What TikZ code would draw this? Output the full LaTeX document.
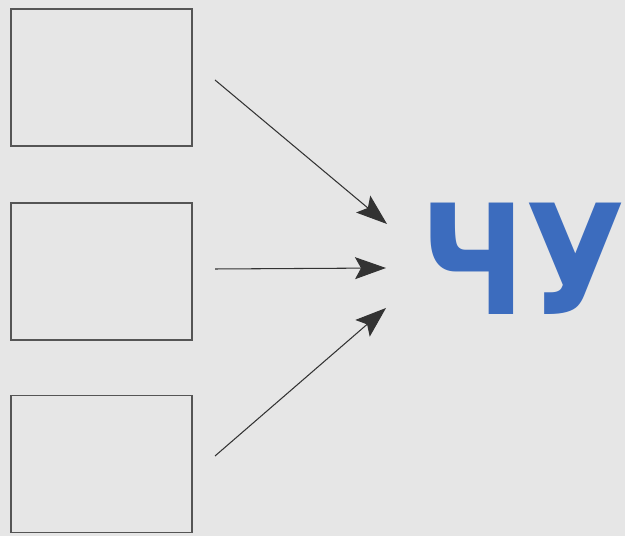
\documentclass[tikz,border=0pt]{standalone}
\usepackage{fontspec}
\usepackage{xcolor}
\usetikzlibrary{arrows.meta}
\newfontfamily\chufont{DejaVu Sans}
\definecolor{pagegray}{RGB}{230,230,230}
\definecolor{framegray}{RGB}{85,85,85}
\definecolor{chublue}{RGB}{60,108,190}

\tikzset{
    emptybox/.style={draw=framegray, line width=0.9pt, minimum width=3.62cm, minimum height=2.74cm, inner sep=0pt},
    pointer/.style={draw=black!80, line width=0.6pt, -{Stealth[length=0.62cm, width=0.44cm, inset=0.12cm]}}
}

\begin{document}
\begin{tikzpicture}
        \fill[pagegray] (0,0) rectangle (12.5,10.72);
        \useasboundingbox (0,0) rectangle (12.5,10.72);
        % three empty boxes
        \node[emptybox] (boxa) at (2.03,9.17) {};
        \node[emptybox] (boxb) at (2.03,5.29) {};
        \node[emptybox] (boxc) at (2.03,1.44) {};
        % the word
        \node[anchor=base, inner sep=0pt, xscale=0.85, text=chublue, font=\chufont\bfseries\fontsize{87}{90}\selectfont] (chu) at (10.47,4.42) {ЧУ};
        % arrow ends
        \coordinate (froma) at (4.30,9.12);
        \coordinate (fromb) at (4.30,5.34);
        \coordinate (fromc) at (4.30,1.60);
        \coordinate (toa) at (7.74,6.24);
        \coordinate (tob) at (7.72,5.36);
        \coordinate (toc) at (7.72,4.56);
        \draw[pointer] (froma) -- (toa);
        \draw[pointer] (fromb) -- (tob);
        \draw[pointer] (fromc) -- (toc);
    \end{tikzpicture}
\end{document}
